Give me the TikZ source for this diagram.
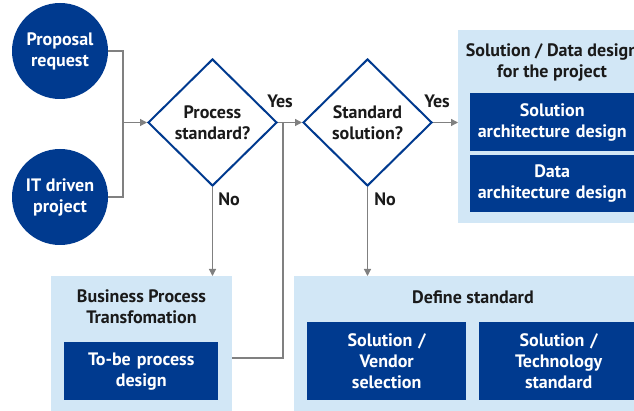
\documentclass[tikz,border=0pt]{standalone}
\usepackage{fontspec}
\setmainfont{PT Sans}
\usetikzlibrary{shapes.geometric,arrows.meta}
\definecolor{dblue}{RGB}{0,58,143}
\definecolor{lblue}{RGB}{210,231,246}
\definecolor{lgray}{RGB}{128,128,128}
\definecolor{txtblack}{RGB}{26,26,26}
\newcommand{\myfont}{\bfseries\fontsize{18}{21}\selectfont}
\tikzset{
  circ/.style={circle,fill=dblue,minimum size=96pt,inner sep=0pt,text=white,font=\myfont,align=center},
  dia/.style={diamond,draw=dblue,line width=2pt,fill=white,minimum width=129pt,minimum height=127pt,inner sep=0pt},
  diatxt/.style={text=txtblack,font=\myfont,align=center},
  outerbox/.style={fill=lblue,anchor=north west,inner sep=0pt},
  innerbox/.style={fill=dblue,anchor=north west,inner sep=0pt,text=white,font=\myfont,align=center},
  ttl/.style={text=txtblack,font=\myfont,align=center},
  lbl/.style={text=txtblack,font=\myfont},
  conn/.style={draw=lgray,line width=1.2pt},
  arr/.style={conn,-{Triangle[length=7pt,width=7pt]}}
}
\begin{document}
\begin{tikzpicture}[x=1pt,y=-1pt]
\clip (0,0) rectangle (634,411);
\fill[white] (0,0) rectangle (634,411);
% outer boxes
\node[outerbox,minimum width=188pt,minimum height=193pt] (sd) at (458,30) {};
\node[outerbox,minimum width=181pt,minimum height=150pt] (bpt) at (51,276) {};
\node[outerbox,minimum width=358pt,minimum height=150pt] (def) at (294,276) {};
% titles
\node[ttl] (sdt) at (552,62) {Solution / Data design\\for the project};
\node[ttl] (bptt) at (141.5,307) {Business Process\\Transfomation};
\node[ttl] (deft) at (473,297) {Define standard};
% inner boxes
\node[innerbox,minimum width=164pt,minimum height=58pt,text width=164pt] (sa) at (470,93) {Solution\\architecture design};
\node[innerbox,minimum width=164pt,minimum height=57pt,text width=164pt] (da) at (470,155) {Data\\architecture design};
\node[innerbox,minimum width=154pt,minimum height=58pt,text width=154pt] (tb) at (64,342) {To-be process\\design};
\node[innerbox,minimum width=159pt,minimum height=78pt,text width=159pt] (sv) at (307,322) {Solution /\\Vendor\\selection};
\node[innerbox,minimum width=159pt,minimum height=78pt,text width=159pt] (st) at (479,322) {Solution /\\Technology\\standard};
% circles
\node[circ] (c1) at (60,51) {Proposal\\request};
\node[circ] (c2) at (60,197) {IT driven\\project};
% diamonds
\node[dia] (d1) at (212.5,122.5) {};
\node[diatxt] (d1t) at (d1) {Process\\standard?};
\node[dia] (d2) at (367.5,122.5) {};
\node[diatxt] (d2t) at (d2) {Standard\\solution?};
% connectors
\coordinate (j) at (123,122.5);
\coordinate (j2) at (283,122.5);
\coordinate (k) at (283,358);
\draw[conn] (c1.east) -| (j);
\draw[conn] (c2.east) -| (j);
\draw[arr] (j) -- (d1.west);
\draw[arr] (d1.east) -- (d2.west);
\draw[conn] (k -| bpt.east) -- (k) -- (j2);
\draw[arr] (d2.east) -- (sd.west |- d2.east);
\draw[arr] (d1.south) -- (d1.south |- bpt.north);
\draw[arr] (d2.south) -- (d2.south |- def.north);
% labels
\node[lbl] (y1) at (280,101) {Yes};
\node[lbl] (y2) at (437,101) {Yes};
\node[lbl] (n1) at (229,199) {No};
\node[lbl] (n2) at (385,199) {No};
\end{tikzpicture}
\end{document}
